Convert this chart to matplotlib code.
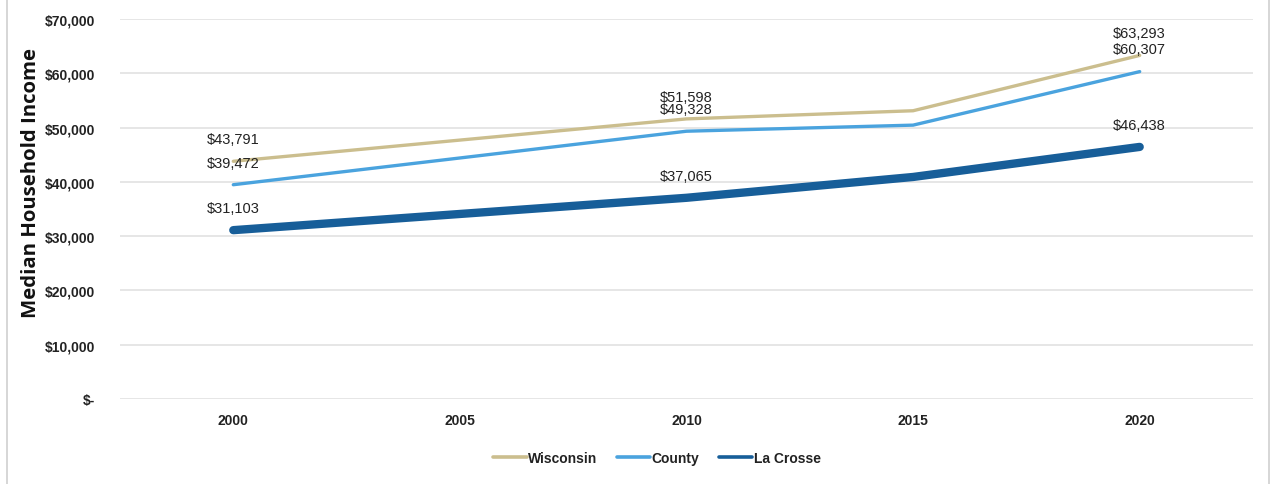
import numpy as np
import matplotlib
matplotlib.use("Agg")
import matplotlib.pyplot as plt
from matplotlib.lines import Line2D

years = ["2000", "2005", "2010", "2015", "2020"]
wisconsin = [43791, np.nan, 51598, 53100, 63293]
county = [39472, np.nan, 49328, 50450, 60307]
la_crosse = [31103, np.nan, 37065, 40900, 46438]

labels_shown = {0: True, 2: True, 4: True}

series = [
    ("Wisconsin", wisconsin, "#CBBE8E", 2.4),
    ("County", county, "#4AA3DE", 2.4),
    ("La Crosse", la_crosse, "#175E99", 6.0),
]

fam = ["Liberation Sans Narrow", "Liberation Sans", "DejaVu Sans"]
plt.rcParams["font.family"] = fam

fig = plt.figure(figsize=(12.76, 4.85), dpi=100)
ax = fig.add_axes([120 / 1276, 1 - 400 / 485, (1253 - 120) / 1276, 380 / 485])

x = np.arange(len(years))
for name, vals, col, lw in series:
    v = np.array(vals, dtype=float)
    m = ~np.isnan(v)
    ax.plot(x[m], v[m], color=col, lw=lw, label=name, solid_capstyle="round",
            solid_joinstyle="round")
    for i in range(len(years)):
        if i in labels_shown and not np.isnan(v[i]):
            ax.annotate(f"${int(v[i]):,}", (x[i], v[i]), xytext=(0, 16),
                        textcoords="offset points", ha="center", va="center",
                        fontsize=10.5, color="#222222")

ax.set_xlim(-0.5, len(years) - 0.5)
ax.set_ylim(0, 70000)
ax.set_xticks(x)
ax.set_xticklabels(years, fontsize=10, fontweight="bold", color="#222222")
yt = np.arange(0, 70001, 10000)
ax.set_yticks(yt)
ax.set_yticklabels(["$-" if t == 0 else f"${t:,}" for t in yt], fontsize=10,
                   fontweight="bold", color="#222222")
ax.tick_params(axis="both", length=0)
ax.tick_params(axis="y", pad=18)
ax.tick_params(axis="x", pad=10)
for s in ax.spines.values():
    s.set_visible(False)
ax.grid(axis="y", color="#E2E2E2", lw=1.2)
ax.set_axisbelow(True)

fig.text(31 / 1276, 1 - 183 / 485, "Median Household Income", rotation=90,
         ha="center", va="center", fontsize=14.7, fontweight="bold",
         family=["Open Sans", "DejaVu Sans"], color="#111111")

leg = fig.legend(loc="center", bbox_to_anchor=(657 / 1276, 1 - 459 / 485),
                 ncol=3, frameon=False, fontsize=10, handlelength=2.4,
                 columnspacing=1.4, handletextpad=0.1)
for t in leg.get_texts():
    t.set_fontweight("bold")
    t.set_color("#222222")
for h in leg.legend_handles:
    h.set_linewidth(2.6)

fig.add_artist(Line2D([7 / 1276, 7 / 1276], [0, 1], transform=fig.transFigure,
                      color="#D0D0D0", lw=1.2))
fig.add_artist(Line2D([1269 / 1276, 1269 / 1276], [0, 1], transform=fig.transFigure,
                      color="#D0D0D0", lw=1.2))

fig.savefig("out.png", dpi=100)
